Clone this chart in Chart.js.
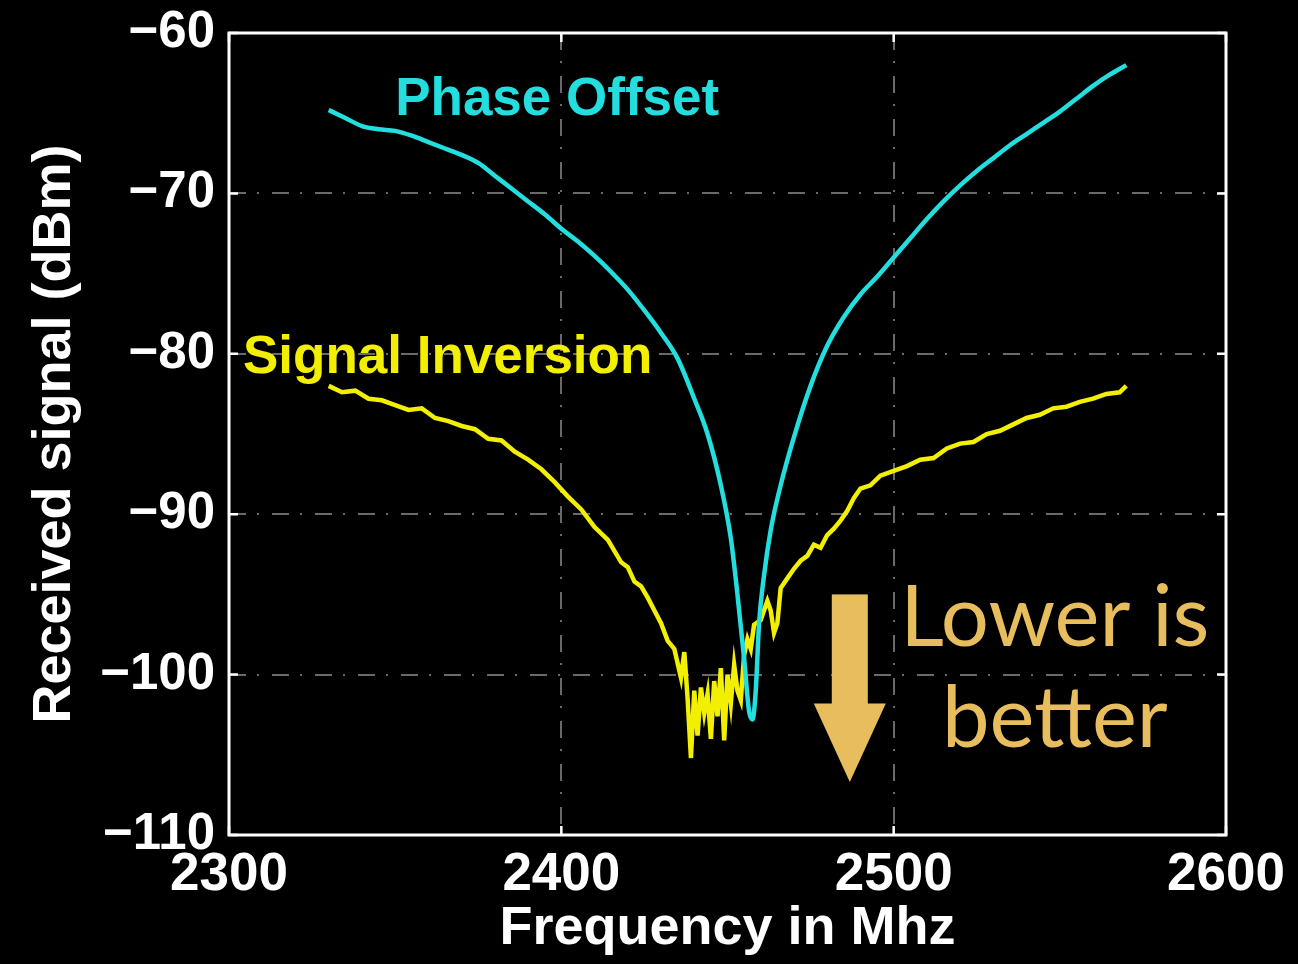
<!DOCTYPE html>
<html lang="en">
<head>
    <meta charset="UTF-8">
    <title>Received signal vs frequency</title>
    <style>
        body {
            margin: 0;
            padding: 0;
            background: #000;
        }
        .chart-box {
            position: relative;
            width: 1298px;
            height: 964px;
        }
    </style>
    <script src="https://cdn.jsdelivr.net/npm/chart.js"></script>
</head>
<body>
    <div class="chart-box">
        <canvas id="signalChart"></canvas>
    </div>

    <script>
        // Phase Offset curve (MHz, dBm)
        const phaseFreq = [2330, 2335, 2340, 2345, 2350, 2355, 2360, 2365, 2370, 2375,
            2380, 2385, 2390, 2395, 2400, 2405, 2410, 2415, 2420, 2425,
            2430, 2435, 2440, 2444, 2448, 2451, 2453, 2455, 2456.5, 2457.5,
            2458.5, 2459.5, 2461, 2463, 2466, 2470, 2475, 2480, 2485, 2490,
            2495, 2500, 2505, 2510, 2515, 2520, 2525, 2530, 2535, 2540,
            2545, 2550, 2555, 2560, 2565, 2570];
        const phaseDbm = [-64.8, -65.3, -65.8, -66.0, -66.1, -66.4, -66.8, -67.2, -67.6, -68.1,
            -68.9, -69.7, -70.5, -71.3, -72.2, -73.0, -73.9, -74.9, -76.0, -77.3,
            -78.7, -80.3, -82.8, -85.0, -88.2, -91.5, -95.0, -99.0, -102.3, -102.8,
            -101.0, -96.8, -93.8, -91.0, -88.2, -85.2, -82.0, -79.5, -77.7, -76.3,
            -75.2, -74.0, -72.8, -71.6, -70.5, -69.5, -68.6, -67.8, -67.0, -66.3,
            -65.6, -64.9, -64.1, -63.3, -62.6, -62.0];

        // Signal Inversion curve (MHz, dBm)
        const inversionFreq = [2330, 2334, 2338, 2342, 2346, 2350, 2354, 2358, 2362, 2366,
            2370, 2374, 2378, 2382, 2386, 2390, 2394, 2398, 2402, 2406,
            2410, 2414, 2418, 2420, 2422, 2424, 2426, 2428, 2430, 2432,
            2434, 2436, 2437, 2438, 2439, 2440, 2441, 2442, 2443, 2444,
            2445, 2446, 2447, 2448, 2449, 2450, 2451, 2452, 2453, 2454,
            2455, 2456, 2457, 2458, 2460, 2462, 2463, 2464, 2465, 2466,
            2468, 2470, 2472, 2474, 2476, 2478, 2480, 2482, 2484, 2486,
            2488, 2490, 2493, 2496, 2500, 2504, 2508, 2512, 2516, 2520,
            2524, 2528, 2532, 2536, 2540, 2544, 2548, 2552, 2556, 2560,
            2564, 2568, 2570];
        const inversionDbm = [-82.0, -82.4, -82.3, -82.8, -82.9, -83.2, -83.5, -83.4, -84.0, -84.2,
            -84.5, -84.7, -85.3, -85.4, -86.1, -86.6, -87.2, -88.0, -88.9, -89.7,
            -90.8, -91.6, -93.0, -93.3, -94.2, -94.5, -95.2, -96.0, -96.8, -97.9,
            -98.4, -100.2, -98.6, -101.5, -105.2, -101.0, -103.8, -100.8, -102.4, -101.2,
            -104.0, -100.4, -102.6, -99.6, -104.1, -100.0, -101.8, -99.4, -101.0, -101.6,
            -98.8, -97.8, -98.4, -96.9, -96.6, -95.4, -96.0, -97.4, -96.8, -94.6,
            -94.0, -93.4, -92.9, -92.6, -91.9, -92.1, -91.3, -90.9, -90.4, -89.8,
            -89.0, -88.4, -88.2, -87.6, -87.3, -87.0, -86.6, -86.5, -85.9, -85.6,
            -85.5, -85.0, -84.8, -84.4, -84.0, -83.8, -83.4, -83.3, -83.0, -82.8,
            -82.5, -82.4, -82.0];

        const xTicks = [2300, 2400, 2500, 2600];
        const yTicks = [-60, -70, -80, -90, -100, -110];

        // text labels placed in data units
        const labels = [
            { text: 'Phase Offset', x: 2350, y: -65.1, color: '#22dede' },
            { text: 'Signal Inversion', x: 2304.2, y: -81.2, color: '#f2f000' }
        ];
        const noteLines = ['Lower is', 'better'];
        const noteAt = { x: 2548.5, y: [-98.2, -104.5] };
        const arrowAt = { x: 2486.8, top: -95.0, headStart: -101.8, tip: -106.7 };

        const toPoints = (xs, ys) => xs.map((x, i) => ({ x: x, y: ys[i] }));
        const minus = v => String(v).replace('-', '\u2212');

        const noteColor = '#e8bd5e';
        const axisFont = '"Liberation Sans", Arial, sans-serif';

        // white frame with inward tick marks, like the matlab axes box
        const framePlugin = {
            id: 'frame',
            afterDatasetsDraw(chart) {
                const ctx = chart.ctx;
                const a = chart.chartArea;
                const xs = chart.scales.x;
                const ys = chart.scales.y;
                ctx.save();
                ctx.strokeStyle = '#ffffff';
                ctx.lineWidth = 3;
                ctx.strokeRect(a.left, a.top, a.right - a.left, a.bottom - a.top);
                ctx.lineWidth = 2.5;
                xTicks.forEach(v => {
                    const px = xs.getPixelForValue(v);
                    ctx.beginPath();
                    ctx.moveTo(px, a.bottom); ctx.lineTo(px, a.bottom - 9);
                    ctx.moveTo(px, a.top); ctx.lineTo(px, a.top + 9);
                    ctx.stroke();
                });
                yTicks.forEach(v => {
                    const py = ys.getPixelForValue(v);
                    ctx.beginPath();
                    ctx.moveTo(a.left, py); ctx.lineTo(a.left + 9, py);
                    ctx.moveTo(a.right, py); ctx.lineTo(a.right - 9, py);
                    ctx.stroke();
                });
                ctx.restore();
            }
        };

        const notesPlugin = {
            id: 'notes',
            afterDraw(chart) {
                const ctx = chart.ctx;
                const xs = chart.scales.x;
                const ys = chart.scales.y;
                ctx.save();
                ctx.textBaseline = 'alphabetic';
                ctx.textAlign = 'left';
                ctx.font = 'bold 53px ' + axisFont;
                labels.forEach(l => {
                    ctx.fillStyle = l.color;
                    ctx.fillText(l.text, xs.getPixelForValue(l.x), ys.getPixelForValue(l.y));
                });

                ctx.fillStyle = noteColor;
                ctx.textAlign = 'center';
                ctx.font = '85px Lato, "Open Sans", sans-serif';
                noteLines.forEach((t, i) => {
                    ctx.fillText(t, xs.getPixelForValue(noteAt.x), ys.getPixelForValue(noteAt.y[i]));
                });

                const ax = xs.getPixelForValue(arrowAt.x);
                const top = ys.getPixelForValue(arrowAt.top);
                const head = ys.getPixelForValue(arrowAt.headStart);
                const tip = ys.getPixelForValue(arrowAt.tip);
                ctx.fillRect(ax - 18, top, 36, head - top + 1);
                ctx.beginPath();
                ctx.moveTo(ax - 36, head);
                ctx.lineTo(ax + 36, head);
                ctx.lineTo(ax, tip);
                ctx.closePath();
                ctx.fill();
                ctx.restore();
            }
        };

        const ctx = document.getElementById('signalChart').getContext('2d');
        new Chart(ctx, {
            type: 'scatter',
            data: {
                datasets: [{
                    label: 'Phase Offset',
                    data: toPoints(phaseFreq, phaseDbm),
                    showLine: true,
                    borderColor: '#22dede',
                    borderWidth: 4.5,
                    pointRadius: 0,
                    cubicInterpolationMode: 'monotone'
                }, {
                    label: 'Signal Inversion',
                    data: toPoints(inversionFreq, inversionDbm),
                    showLine: true,
                    borderColor: '#f2f000',
                    borderWidth: 4.5,
                    pointRadius: 0,
                    tension: 0
                }]
            },
            options: {
                responsive: true,
                maintainAspectRatio: false,
                animation: false,
                layout: {
                    padding: { top: 33, right: 72, bottom: 0, left: 0 }
                },
                plugins: {
                    legend: { display: false },
                    tooltip: { enabled: false }
                },
                scales: {
                    x: {
                        type: 'linear',
                        min: 2300,
                        max: 2600,
                        afterBuildTicks: s => { s.ticks = xTicks.map(v => ({ value: v })); },
                        afterFit: s => { s.height = 129; s.paddingLeft = 0; s.paddingRight = 0; },
                        grid: { color: '#6a6a6a', lineWidth: 2, drawTicks: false },
                        border: { display: false, dash: [17, 11, 2, 13] },
                        ticks: {
                            color: '#ffffff',
                            padding: 9,
                            maxRotation: 0,
                            callback: v => String(v),
                            font: { family: axisFont, size: 53, weight: 'bold' }
                        },
                        title: {
                            display: true,
                            text: 'Frequency in Mhz',
                            color: '#ffffff',
                            padding: { top: 0, bottom: 2 },
                            font: { family: axisFont, size: 54, weight: 'bold', lineHeight: 1.2 }
                        }
                    },
                    y: {
                        min: -110,
                        max: -60,
                        afterBuildTicks: s => { s.ticks = yTicks.map(v => ({ value: v })); },
                        afterFit: s => { s.width = 229; s.paddingTop = 0; s.paddingBottom = 0; },
                        grid: { color: '#6a6a6a', lineWidth: 2, drawTicks: false },
                        border: { display: false, dash: [17, 11, 2, 13] },
                        ticks: {
                            color: '#ffffff',
                            padding: 14,
                            callback: v => minus(v),
                            font: { family: axisFont, size: 51, weight: 'bold' }
                        },
                        title: {
                            display: true,
                            text: 'Received signal (dBm)',
                            color: '#ffffff',
                            padding: { top: 23, bottom: 0 },
                            font: { family: axisFont, size: 54, weight: 'bold', lineHeight: 1.2 }
                        }
                    }
                }
            },
            plugins: [framePlugin, notesPlugin]
        });
    </script>
</body>
</html>
